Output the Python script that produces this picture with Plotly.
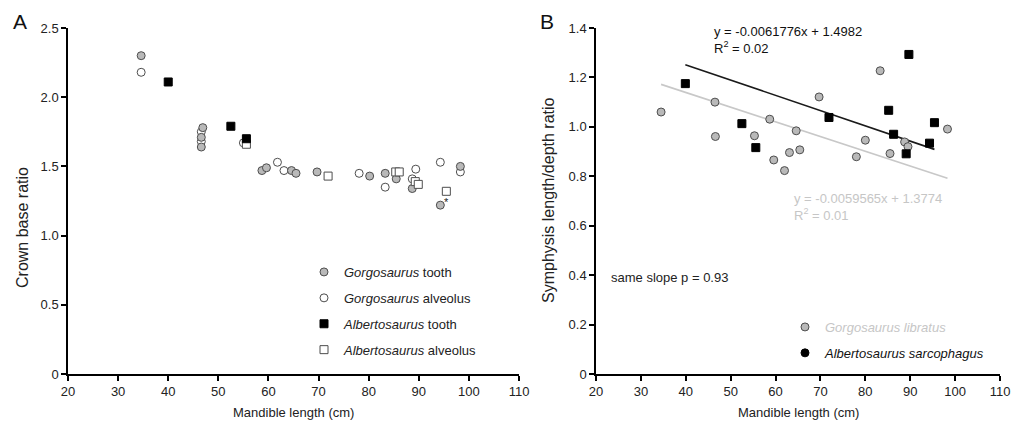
import plotly.graph_objects as go

W, H = 1013, 422

# ---------------- Panel A: crown base ratio vs mandible length ----------------
gorgo_tooth_x = [34.6, 46.9, 46.6, 46.6, 58.7, 59.6, 64.6, 65.5, 69.7, 80.2, 83.3, 85.5, 88.7, 94.3, 98.3]
gorgo_tooth_y = [2.30, 1.78, 1.71, 1.64, 1.47, 1.49, 1.47, 1.45, 1.46, 1.43, 1.45, 1.41, 1.34, 1.22, 1.50]

gorgo_alv_x = [34.6, 46.6, 46.6, 55.0, 61.8, 63.1, 78.1, 83.3, 88.7, 89.4, 94.3, 98.3]
gorgo_alv_y = [2.18, 1.75, 1.68, 1.67, 1.53, 1.47, 1.45, 1.35, 1.41, 1.48, 1.53, 1.46]

alb_tooth_x = [40.0, 52.5, 55.6]
alb_tooth_y = [2.11, 1.79, 1.70]

alb_alv_x = [55.6, 71.9, 85.4, 86.1, 89.3, 89.9, 95.5]
alb_alv_y = [1.66, 1.43, 1.46, 1.46, 1.39, 1.37, 1.32]

# ---------------- Panel B: symphysis ratio vs mandible length ----------------
gorgo_sym_x = [34.5, 46.5, 46.6, 55.3, 58.7, 59.6, 62.0, 63.1, 64.6, 65.4, 69.7, 78.0, 80.0, 83.3, 85.5, 88.75, 89.5, 98.3]
gorgo_sym_y = [1.06, 1.10, 0.961, 0.964, 1.031, 0.866, 0.823, 0.896, 0.984, 0.907, 1.121, 0.879, 0.946, 1.227, 0.892, 0.939, 0.920, 0.991]

alb_sym_x = [39.9, 52.5, 55.6, 71.9, 85.2, 86.3, 89.1, 89.7, 94.3, 95.4]
alb_sym_y = [1.175, 1.013, 0.916, 1.038, 1.067, 0.970, 0.891, 1.293, 0.934, 1.017]

# regression fits (slope, intercept)
gorgo_fit = (-0.0059565, 1.3774)
alb_fit = (-0.0061776, 1.4982)

x_ticks = [20, 30, 40, 50, 60, 70, 80, 90, 100, 110]
ya_ticks = [0, 0.5, 1.0, 1.5, 2.0, 2.5]
ya_labels = ["0", "0.5", "1.0", "1.5", "2.0", "2.5"]
yb_ticks = [0, 0.2, 0.4, 0.6, 0.8, 1.0, 1.2, 1.4]
yb_labels = ["0", "0.2", "0.4", "0.6", "0.8", "1.0", "1.2", "1.4"]

FONT = "Liberation Sans, Arial, sans-serif"
GRAY_FILL = "#b9b9b9"
EDGE = "#4d4d4d"
LIGHT_TXT = "#c6c6c6"


def px_x(p):
    return p / W


def px_y(p):
    return 1 - p / H


fig = go.Figure()

# Panel A markers
fig.add_trace(go.Scatter(
    x=gorgo_alv_x, y=gorgo_alv_y, mode="markers", xaxis="x", yaxis="y",
    name="<i>Gorgosaurus</i> alveolus", legend="legend", legendgroup="a2", legendrank=2,
    marker=dict(symbol="circle", size=8, color="white", line=dict(color=EDGE, width=1))))
fig.add_trace(go.Scatter(
    x=gorgo_tooth_x, y=gorgo_tooth_y, mode="markers", xaxis="x", yaxis="y",
    name="<i>Gorgosaurus</i> tooth", legend="legend", legendgroup="a1", legendrank=1,
    marker=dict(symbol="circle", size=8, color=GRAY_FILL, line=dict(color=EDGE, width=1))))
fig.add_trace(go.Scatter(
    x=alb_alv_x, y=alb_alv_y, mode="markers", xaxis="x", yaxis="y",
    name="<i>Albertosaurus</i> alveolus", legend="legend", legendgroup="a4", legendrank=4,
    marker=dict(symbol="square", size=8, color="white", line=dict(color=EDGE, width=1))))
fig.add_trace(go.Scatter(
    x=alb_tooth_x, y=alb_tooth_y, mode="markers", xaxis="x", yaxis="y",
    name="<i>Albertosaurus</i> tooth", legend="legend", legendgroup="a3", legendrank=3,
    marker=dict(symbol="square", size=8, color="black", line=dict(color="black", width=1))))

# Panel B regression lines
for xs, (m, b), col in [(gorgo_sym_x, gorgo_fit, "#c8c8c8"), (alb_sym_x, alb_fit, "#1a1a1a")]:
    x0, x1 = min(xs), max(xs)
    fig.add_trace(go.Scatter(
        x=[x0, x1], y=[m * x0 + b, m * x1 + b], mode="lines", xaxis="x2", yaxis="y2",
        line=dict(color=col, width=1.6), showlegend=False, hoverinfo="skip"))

# Panel B markers
fig.add_trace(go.Scatter(
    x=gorgo_sym_x, y=gorgo_sym_y, mode="markers", xaxis="x2", yaxis="y2", showlegend=False,
    marker=dict(symbol="circle", size=8, color=GRAY_FILL, line=dict(color=EDGE, width=1))))
fig.add_trace(go.Scatter(
    x=alb_sym_x, y=alb_sym_y, mode="markers", xaxis="x2", yaxis="y2", showlegend=False,
    marker=dict(symbol="square", size=8, color="black", line=dict(color="black", width=1))))

# Panel B legend entries (species key)
fig.add_trace(go.Scatter(
    x=[None], y=[None], mode="markers", xaxis="x2", yaxis="y2", legend="legend2",
    name=f"<span style='color:{LIGHT_TXT}'><i>Gorgosaurus libratus</i></span>",
    legendgroup="b1", legendrank=1,
    marker=dict(symbol="circle", size=8, color=GRAY_FILL, line=dict(color=EDGE, width=1))))
fig.add_trace(go.Scatter(
    x=[None], y=[None], mode="markers", xaxis="x2", yaxis="y2", legend="legend2",
    name="<i>Albertosaurus sarcophagus</i>", legendgroup="b2", legendrank=2,
    marker=dict(symbol="circle", size=8, color="black", line=dict(color="black", width=1))))

axis_common = dict(
    showgrid=False, zeroline=False, showline=True, linecolor="black", linewidth=1.5,
    ticks="outside", ticklen=5, tickwidth=1.5, tickcolor="black", ticklabeloverflow="allow",
    tickfont=dict(family=FONT, size=13, color="#222222"), fixedrange=True,
)

A_L, A_R = 68, 519
B_L, B_R = 596, 1000
TOP, BOT = 28, 374

fig.update_layout(
    width=W, height=H,
    margin=dict(l=0, r=0, t=0, b=0, autoexpand=False),
    paper_bgcolor="white", plot_bgcolor="white",
    font=dict(family=FONT, size=13, color="#222222"),
    xaxis=dict(domain=[px_x(A_L), px_x(A_R)], range=[20, 110], tickvals=x_ticks,
               anchor="y", **axis_common),
    yaxis=dict(domain=[px_y(BOT), px_y(TOP)], range=[0, 2.5], tickvals=ya_ticks,
               ticktext=ya_labels, anchor="x", **axis_common),
    xaxis2=dict(domain=[px_x(B_L), px_x(B_R)], range=[20, 110], tickvals=x_ticks,
                anchor="y2", **axis_common),
    yaxis2=dict(domain=[px_y(BOT), px_y(TOP)], range=[0, 1.4], tickvals=yb_ticks,
                ticktext=yb_labels, anchor="x2", **axis_common),
    legend=dict(x=px_x(304), y=px_y(257), xanchor="left", yanchor="top",
                bgcolor="rgba(0,0,0,0)", font=dict(family=FONT, size=13, color="#222222"),
                tracegroupgap=6, traceorder="grouped", itemclick=False, itemdoubleclick=False),
    legend2=dict(x=px_x(785), y=px_y(312), xanchor="left", yanchor="top",
                 bgcolor="rgba(0,0,0,0)", font=dict(family=FONT, size=13, color="#111111"),
                 tracegroupgap=6, traceorder="grouped", itemclick=False, itemdoubleclick=False),
    showlegend=True,
)

ann = []
# panel letters
ann.append(dict(text="A", x=px_x(11), y=px_y(21), xref="paper", yref="paper",
                xanchor="left", yanchor="middle", showarrow=False,
                font=dict(family=FONT, size=21, color="#111111")))
ann.append(dict(text="B", x=px_x(538), y=px_y(21), xref="paper", yref="paper",
                xanchor="left", yanchor="middle", showarrow=False,
                font=dict(family=FONT, size=21, color="#111111")))
# axis titles
ann.append(dict(text="Crown base ratio", x=px_x(22), y=px_y(228), xref="paper", yref="paper",
                xanchor="center", yanchor="middle",
                textangle=-90, showarrow=False, font=dict(family=FONT, size=16, color="#222222")))
ann.append(dict(text="Symphysis length/depth ratio", x=px_x(548), y=px_y(200), xref="paper",
                yref="paper", xanchor="center", yanchor="middle", textangle=-90, showarrow=False,
                font=dict(family=FONT, size=16, color="#222222")))
ann.append(dict(text="Mandible length (cm)", x=px_x((A_L + A_R) / 2), y=px_y(412), xref="paper",
                yref="paper", xanchor="center", yanchor="middle", showarrow=False,
                font=dict(family=FONT, size=13, color="#222222")))
ann.append(dict(text="Mandible length (cm)", x=px_x((B_L + B_R) / 2), y=px_y(412), xref="paper",
                yref="paper", xanchor="center", yanchor="middle", showarrow=False,
                font=dict(family=FONT, size=13, color="#222222")))
# asterisk beside the smallest Gorgosaurus tooth ratio
ann.append(dict(text="*", x=95.6, y=1.245, xref="x", yref="y", showarrow=False,
                xanchor="center", yanchor="middle", font=dict(family=FONT, size=11, color="#222222")))
# regression equations
ann.append(dict(text=f"y = {alb_fit[0]}x + {alb_fit[1]}<br>R<sup>2</sup> = 0.02",
                x=px_x(712), y=px_y(22), xref="paper", yref="paper", xanchor="left",
                yanchor="top", align="left", showarrow=False,
                font=dict(family=FONT, size=13, color="#111111")))
ann.append(dict(text=f"y = {gorgo_fit[0]}x + {gorgo_fit[1]}<br>R<sup>2</sup> = 0.01",
                x=px_x(792), y=px_y(189), xref="paper", yref="paper", xanchor="left",
                yanchor="top", align="left", showarrow=False,
                font=dict(family=FONT, size=13, color=LIGHT_TXT)))
ann.append(dict(text="same slope p = 0.93", x=px_x(609), y=px_y(277), xref="paper",
                yref="paper", xanchor="left", yanchor="middle", showarrow=False,
                font=dict(family=FONT, size=13, color="#222222")))
fig.update_layout(annotations=ann)

fig.write_html("out.html")
